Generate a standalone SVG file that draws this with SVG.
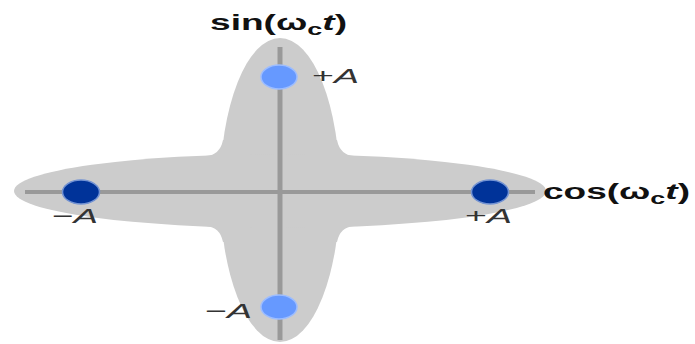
<svg xmlns="http://www.w3.org/2000/svg" width="695" height="344" viewBox="0 0 695 344">
<style>
.bg{fill:#cccccc}
.axis{stroke:#999999;stroke-width:4;fill:none}
.lt{fill:#6699ff;stroke:#9dbdff;stroke-width:1.5}
.dk{fill:#003399;stroke:#7393d3;stroke-width:1.5}
.lbl{font-family:"Liberation Sans",Arial,sans-serif;font-size:21px;fill:#333333}
.ttl{font-family:"Liberation Sans",Arial,sans-serif;font-size:22px;font-weight:bold;fill:#111111}
</style>
<rect width="695" height="344" fill="#ffffff"/>
<g id="background">
<ellipse class="bg" cx="280" cy="190" rx="60" ry="152"/>
<ellipse class="bg" cx="280" cy="191" rx="266" ry="37"/>
<path class="bg" d="M206 156 Q220 155 223 140 L250 140 L250 165 L206 165 Z"/>
<path class="bg" d="M354 156 Q340 155 337 140 L310 140 L310 165 L354 165 Z"/>
<path class="bg" d="M206 226 Q220 227 223 242 L250 242 L250 217 L206 217 Z"/>
<path class="bg" d="M354 226 Q340 227 337 242 L310 242 L310 217 L354 217 Z"/>
</g>
<g id="connectors">
<line class="axis" x1="280" y1="47" x2="280" y2="340" style="stroke-width:5"/>
<line class="axis" x1="25" y1="192" x2="535" y2="192"/>
</g>
<g id="sin-label"><text class="ttl" x="210" y="30" textLength="137" lengthAdjust="spacingAndGlyphs">sin(ω<tspan font-size="16" dy="5">c</tspan><tspan font-style="italic" dy="-5">t</tspan>)</text></g>
<g id="cos-label"><text class="ttl" x="543" y="199" textLength="147" lengthAdjust="spacingAndGlyphs">cos(ω<tspan font-size="16" dy="5">c</tspan><tspan font-style="italic" dy="-5">t</tspan>)</text></g>
<g id="top-point">
<ellipse class="lt" cx="279" cy="77" rx="18" ry="12"/>
<text class="lbl" x="312" y="83" textLength="47" lengthAdjust="spacingAndGlyphs">+<tspan font-style="italic">A</tspan></text>
</g>
<g id="left-point">
<ellipse class="dk" cx="81" cy="192" rx="18.5" ry="12"/>
<text class="lbl" x="52" y="223" textLength="46" lengthAdjust="spacingAndGlyphs">−<tspan font-style="italic">A</tspan></text>
</g>
<g id="right-point">
<ellipse class="dk" cx="490" cy="192" rx="18.5" ry="12"/>
<text class="lbl" x="465" y="223" textLength="47" lengthAdjust="spacingAndGlyphs">+<tspan font-style="italic">A</tspan></text>
</g>
<g id="bottom-point">
<ellipse class="lt" cx="279" cy="307" rx="18" ry="12"/>
<text class="lbl" x="205" y="318" textLength="47" lengthAdjust="spacingAndGlyphs">−<tspan font-style="italic">A</tspan></text>
</g>
</svg>
